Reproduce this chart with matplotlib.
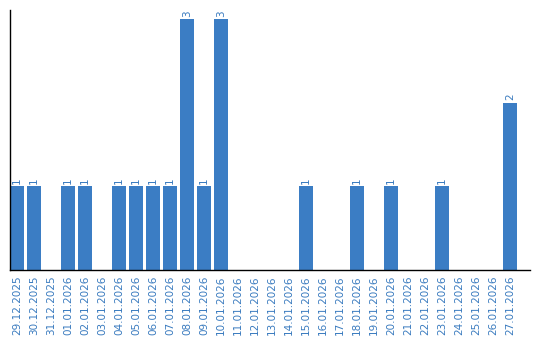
import matplotlib
matplotlib.use("Agg")
import matplotlib.pyplot as plt

dates = ["29.12.2025", "30.12.2025", "31.12.2025", "01.01.2026", "02.01.2026",
         "03.01.2026", "04.01.2026", "05.01.2026", "06.01.2026", "07.01.2026",
         "08.01.2026", "09.01.2026", "10.01.2026", "11.01.2026", "12.01.2026",
         "13.01.2026", "14.01.2026", "15.01.2026", "16.01.2026", "17.01.2026",
         "18.01.2026", "19.01.2026", "20.01.2026", "21.01.2026", "22.01.2026",
         "23.01.2026", "24.01.2026", "25.01.2026", "26.01.2026", "27.01.2026"]
counts = [1, 1, 0, 1, 1, 0, 1, 1, 1, 1, 3, 1, 3, 0, 0, 0, 0, 1, 0, 0,
          1, 0, 1, 0, 0, 1, 0, 0, 0, 2]

bar_color = "#3b7dc4"
text_color = "#3a7bbf"

fig = plt.figure(figsize=(5.4, 3.4), dpi=100)
ax = fig.add_axes([10/540, 70/340, 520/540, 260/340])
x = list(range(len(dates)))
bars = ax.bar(x, counts, width=0.82, color=bar_color)
for xi, c in zip(x, counts):
    if c > 0:
        ax.text(xi, c + 0.03, str(c), rotation=90, ha="center", va="bottom",
                color=text_color, fontsize=7.5)

ax.set_xlim(-0.41, 30.18)
ax.set_ylim(0, 3.11)
ax.set_xticks(x)
ax.set_xticklabels(dates, rotation=90, color=text_color, fontsize=7.5)
ax.tick_params(axis="x", length=0, pad=4)
ax.set_yticks([])
for s in ["top", "right"]:
    ax.spines[s].set_visible(False)
ax.spines["left"].set_color("black")
ax.spines["bottom"].set_color("black")
ax.spines["left"].set_linewidth(1)
ax.spines["bottom"].set_linewidth(1)

fig.savefig("out.png", dpi=100)
